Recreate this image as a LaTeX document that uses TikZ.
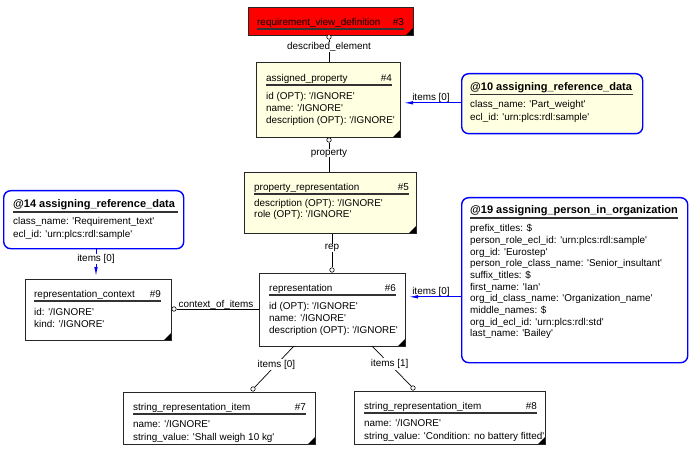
\documentclass[tikz,border=0pt]{standalone}
\usepackage{fontspec}
\setmainfont{Liberation Sans}[Ligatures=TeXOff]
\usetikzlibrary{arrows.meta}
\definecolor{notefill}{HTML}{FFFFE1}
\tikzset{every node/.style={inner sep=0pt, font=\fontsize{9.9}{12}\selectfont},
  entity/.style={draw=black!85, line width=1pt, anchor=north west,
    path picture={\fill[black] (path picture bounding box.south east) -- ++(-8pt,0pt) -- ++(8pt,8pt) -- cycle;}},
  refbox/.style={draw=blue, line width=1.4pt, rounded corners=7pt, fill=white, anchor=north west},
  attr/.style={anchor=base west},
  num/.style={anchor=base east},
  reftitle/.style={anchor=base west, font=\fontsize{11}{12}\selectfont\bfseries},
  uline/.style={line width=1.3pt, black!80},
  hole/.style={circle, draw, fill=white, minimum size=4.5pt, line width=0.6pt},
  role/.style={fill=white, inner sep=1pt},
  link/.style={black, line width=0.7pt},
  reflink/.style={blue, line width=0.9pt},
  tip/.style={-{Latex[length=9pt,width=3.5pt]}, shorten >=3pt}
}
\begin{document}
\begin{tikzpicture}[x=1pt,y=-1pt]
  \useasboundingbox (0,0) rectangle (696,457);
  % entities
  \node[entity, fill=red, minimum width=165pt, minimum height=28pt] (e3) at (248,7) {};
  \node[attr] (t3) at (257,25.5) {requirement\_view\_definition};
  \node[num] (n3) at (404,25.5) {\#3};
  \draw[uline] (257,29) -- (404,29);

  \node[entity, fill=notefill, minimum width=144pt, minimum height=75pt] (e4) at (256,62) {};
  \node[attr] (t4) at (266,81.5) {assigned\_property};
  \node[num] (n4) at (392,81.5) {\#4};
  \draw[uline] (266,85) -- (392,85);
  \foreach \s [count=\i] in {{id (OPT): '/IGNORE'},{name: '/IGNORE'},{description (OPT): '/IGNORE'}}
    \node[attr] (a4\i) at (266,87.5+12*\i) {\s};

  \node[entity, fill=notefill, minimum width=172pt, minimum height=61pt] (e5) at (244,172) {};
  \node[attr] (t5) at (254,190.5) {property\_representation};
  \node[num] (n5) at (409,190.5) {\#5};
  \draw[uline] (254,194) -- (409,194);
  \foreach \s [count=\i] in {{description (OPT): '/IGNORE'},{role (OPT): '/IGNORE'}}
    \node[attr] (a5\i) at (254,195.5+11*\i) {\s};

  \node[entity, fill=white, minimum width=146pt, minimum height=73pt] (e6) at (259,273) {};
  \node[attr] (t6) at (269,291.5) {representation};
  \node[num] (n6) at (396,291.5) {\#6};
  \draw[uline] (269,295) -- (396,295);
  \foreach \s [count=\i] in {{id (OPT): '/IGNORE'},{name: '/IGNORE'},{description (OPT): '/IGNORE'}}
    \node[attr] (a6\i) at (269,297.5+12*\i) {\s};

  \node[entity, fill=white, minimum width=146pt, minimum height=61pt] (e9) at (25,279) {};
  \node[attr] (t9) at (34,297.5) {representation\_context};
  \node[num] (n9) at (161,297.5) {\#9};
  \draw[uline] (34,301) -- (161,301);
  \foreach \s [count=\i] in {{id: '/IGNORE'},{kind: '/IGNORE'}}
    \node[attr] (a9\i) at (34,303.5+12*\i) {\s};

  \node[entity, fill=white, minimum width=192pt, minimum height=52pt] (e7) at (123,392) {};
  \node[attr] (t7) at (133,410.5) {string\_representation\_item};
  \node[num] (n7) at (306,410.5) {\#7};
  \draw[uline] (133,414) -- (306,414);
  \foreach \s [count=\i] in {{name: '/IGNORE'},{string\_value: 'Shall weigh 10 kg'}}
    \node[attr] (a7\i) at (133,414.5+13*\i) {\s};

  \node[entity, fill=white, minimum width=191pt, minimum height=53pt] (e8) at (354,391) {};
  \node[attr] (t8) at (364,409.5) {string\_representation\_item};
  \node[num] (n8) at (537,409.5) {\#8};
  \draw[uline] (364,413) -- (537,413);
  \foreach \s [count=\i] in {{name: '/IGNORE'},{string\_value: 'Condition: no battery fitted'}}
    \node[attr] (a8\i) at (364,413.5+13*\i) {\s};

  % reference data
  \node[refbox, fill=notefill, minimum width=181pt, minimum height=60pt] (r10) at (461,73) {};
  \node[reftitle] (t10) at (470,90.5) {@10 assigning\_reference\_data};
  \draw[uline] (470,94.5) -- (633,94.5);
  \foreach \s [count=\i] in {{class\_name: 'Part\_weight'},{ecl\_id: 'urn:plcs:rdl:sample'}}
    \node[attr] (a10\i) at (470,94+13.5*\i) {\s};

  \node[refbox, minimum width=180pt, minimum height=58pt] (r14) at (3,190) {};
  \node[reftitle] (t14) at (13,207.5) {@14 assigning\_reference\_data};
  \draw[uline] (13,212) -- (178,212);
  \foreach \s [count=\i] in {{class\_name: 'Requirement\_text'},{ecl\_id: 'urn:plcs:rdl:sample'}}
    \node[attr] (a14\i) at (13,211.5+13*\i) {\s};

  \node[refbox, minimum width=226pt, minimum height=165pt] (r19) at (461,197) {};
  \node[reftitle] (t19) at (470,213.5) {@19 assigning\_person\_in\_organization};
  \draw[uline] (470,218) -- (678,218);
  \foreach \s [count=\i] in {{prefix\_titles: \$},{person\_role\_ecl\_id: 'urn:plcs:rdl:sample'},
      {org\_id: 'Eurostep'},{person\_role\_class\_name: 'Senior\_insultant'},{suffix\_titles: \$},
      {first\_name: 'Ian'},{org\_id\_class\_name: 'Organization\_name'},{middle\_names: \$},
      {org\_id\_ecl\_id: 'urn:plcs:rdl:std'},{last\_name: 'Bailey'}}
    \node[attr] (a19\i) at (470,220.1+11.67*\i) {\s};

  % attribute links
  \node[hole] (c3) at (329,37) {};
  \node (l3) at (329,47) {described\_element};
  \draw[link] (c3) -- (l3);
  \draw[link] (l3.south) -- (l3.south |- e4.north);

  \node[hole] (c4) at (329,140) {};
  \node (l4) at (329,153) {property};
  \draw[link] (c4) -- (l4);
  \draw[link] (l4.south) -- (l4.south |- e5.north);

  \node (l5) at (332,248) {rep};
  \node[hole] (c6) at (332,270) {};
  \draw[link] (l5.north |- e5.south) -- (l5.north);
  \draw[link] (l5.south) -- (c6);

  \node[hole] (c9) at (174,309) {};
  \node (l9) at (216,304.5) {context\_of\_items};
  \draw[link] (c9) -- (c9 -| e6.west);

  \node[hole] (c7) at (253,389) {};
  \node[hole] (c8) at (413,388) {};
  \coordinate (s7) at (294,346);
  \coordinate (s8) at (372,346);
  \draw[link] (s7) -- (c7) node[role, pos=0.45] (l7) {items [0]};
  \draw[link] (s8) -- (c8) node[role, pos=0.45] (l8) {items [1]};

  % items of reference data
  \node (i10) at (431,98) {items [0]};
  \draw[reflink, tip] (r10.west |- i10.south) -- (e4.east |- i10.south);
  \node (i19) at (431,292) {items [0]};
  \draw[reflink, tip] (r19.west |- i19.south) -- (e6.east |- i19.south);
  \node (i14) at (96,259) {items [0]};
  \draw[reflink] (i14.north |- r14.south) -- (i14.north);
  \draw[reflink, tip] (i14.south) -- (i14.south |- e9.north);
\end{tikzpicture}
\end{document}
